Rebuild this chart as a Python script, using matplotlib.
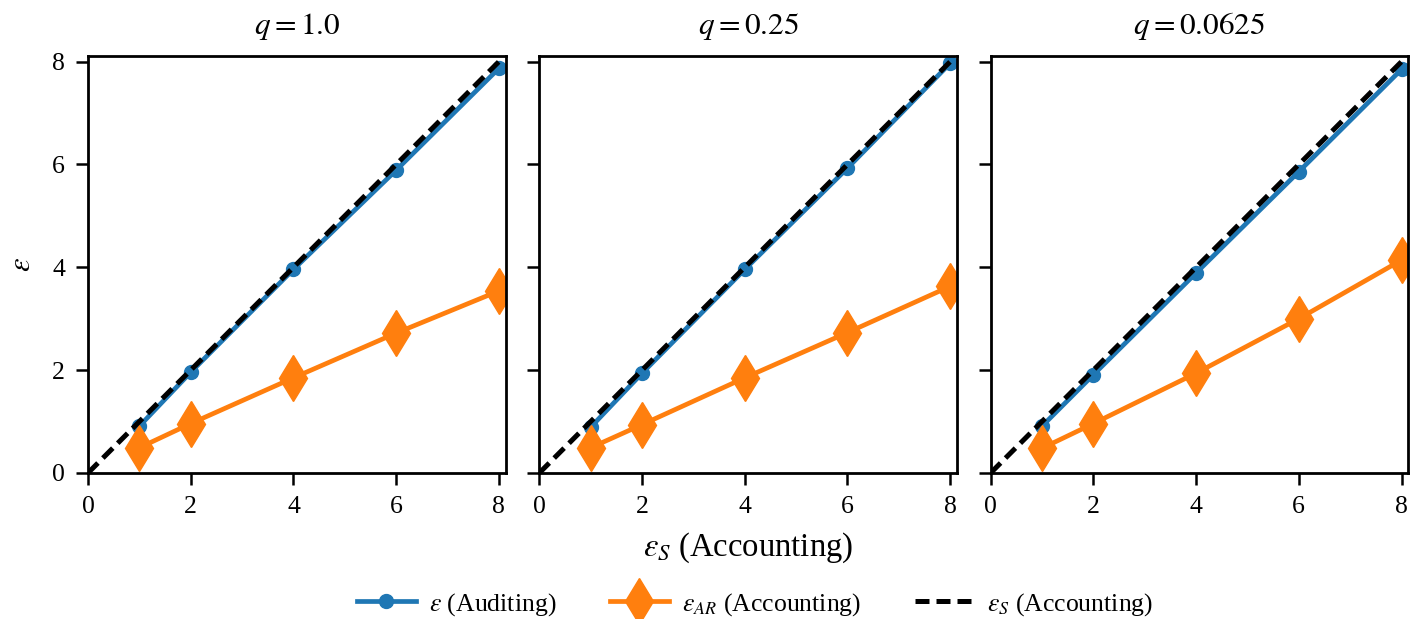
import matplotlib
matplotlib.use("Agg")
import matplotlib.pyplot as plt

plt.rcParams['font.family'] = ['Liberation Serif', 'DejaVu Serif']
plt.rcParams['mathtext.fontset'] = 'stix'

titles = [r"$q = 1.0$", r"$q = 0.25$", r"$q = 0.0625$"]
eps_s = [1, 2, 4, 6, 8]
eps_audit = [
    [0.91, 1.96, 3.96, 5.89, 7.87],
    [0.89, 1.94, 3.96, 5.93, 7.97],
    [0.91, 1.91, 3.89, 5.86, 7.85],
]
eps_ar = [
    [0.49, 0.96, 1.85, 2.72, 3.54],
    [0.49, 0.94, 1.85, 2.73, 3.63],
    [0.48, 0.96, 1.94, 3.00, 4.14],
]
diag = [0, 8]

fig, axes = plt.subplots(1, 3, figsize=(14.11, 6.19), dpi=100, sharey=True)
fig.subplots_adjust(left=0.0624, right=0.998, top=0.9095, bottom=0.236, wspace=0.081)

for i, ax in enumerate(axes):
    l1, = ax.plot(eps_s, eps_audit[i], color='#1f77b4', lw=3.4, marker='o', ms=10,
                  label=r"$\varepsilon$ (Auditing)", zorder=3)
    l2, = ax.plot(eps_s, eps_ar[i], color='#ff7f0e', lw=3.4, marker='d', ms=23,
                  label=r"$\varepsilon_{AR}$ (Accounting)", zorder=3)
    l3, = ax.plot(diag, diag, color='black', lw=3.6, ls=(0, (2.8, 1.4)),
                  label=r"$\varepsilon_S$ (Accounting)", zorder=4)
    ax.set_xlim(0, 8.13)
    ax.set_ylim(0, 8.11)
    ax.set_xticks([0, 2, 4, 6, 8])
    ax.set_yticks([0, 2, 4, 6, 8])
    ax.set_title(titles[i], fontsize=22.5, pad=16)
    ax.tick_params(direction='out', length=8.6, width=1.8, labelsize=18.5, pad=8)
    for sp in ax.spines.values():
        sp.set_linewidth(2)
        sp.set_zorder(5)

axes[0].set_ylabel(r"$\varepsilon$", fontsize=22, labelpad=11)
axes[1].set_xlabel(r"$\varepsilon_S$ (Accounting)", fontsize=23.5, labelpad=9)

handles = [l1, l2, l3]
fig.legend(handles=handles, labels=[h.get_label() for h in handles],
           loc='lower center', bbox_to_anchor=(0.535, -0.035), ncol=3, frameon=False,
           fontsize=18.5, columnspacing=2.1, handlelength=2.3, handletextpad=0.5)

fig.savefig("out.png", dpi=100)
